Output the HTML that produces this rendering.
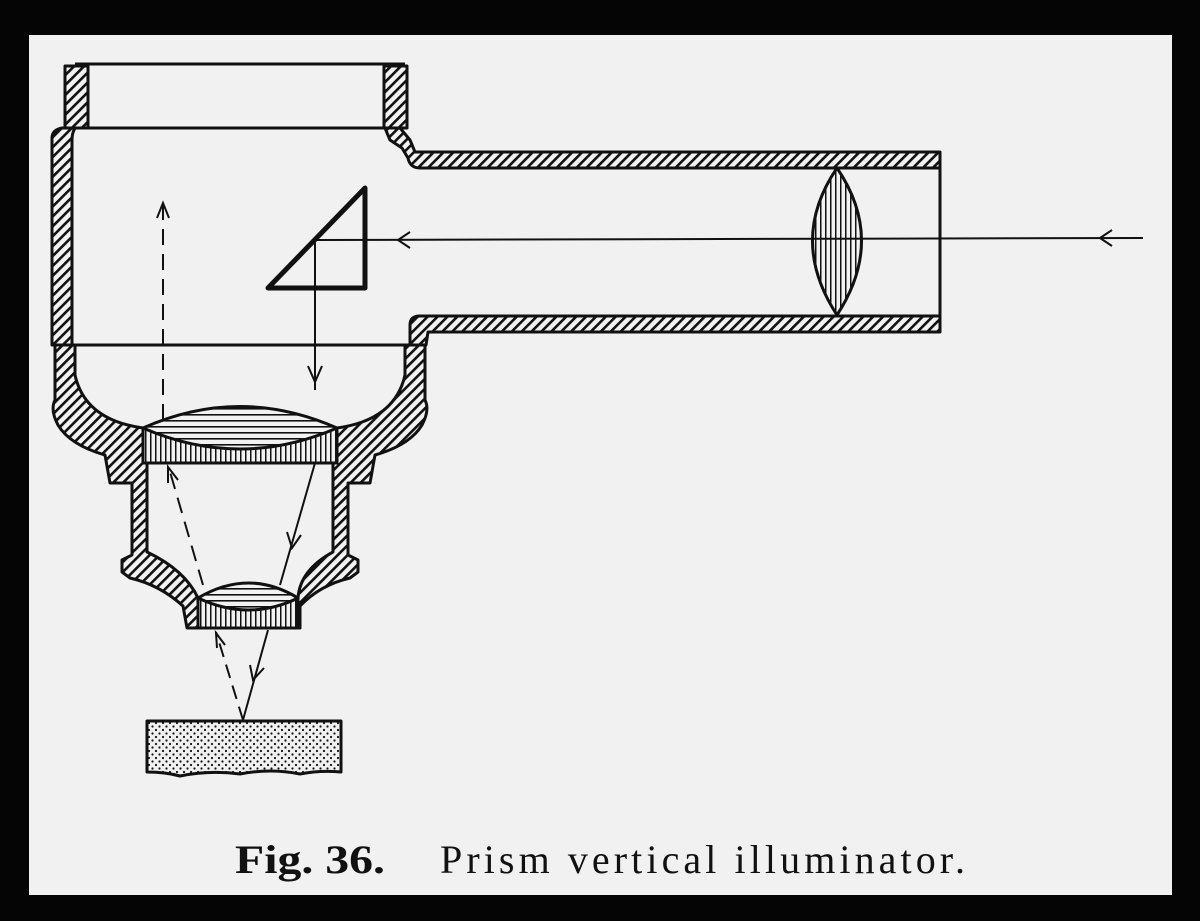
<!DOCTYPE html>
<html><head><style>
html,body{margin:0;padding:0;background:#000;}
svg{display:block}
</style></head><body>
<svg width="1200" height="921" viewBox="0 0 1200 921" xmlns="http://www.w3.org/2000/svg">
<defs>
<pattern id="h" width="7" height="7" patternUnits="userSpaceOnUse" patternTransform="rotate(45)">
<rect width="7" height="7" fill="#f2f2f2"/><rect width="2.6" height="7" fill="#111"/></pattern>
<pattern id="v" width="5" height="5" patternUnits="userSpaceOnUse">
<rect width="5" height="5" fill="#f2f2f2"/><rect width="1.5" height="5" fill="#111"/></pattern>
<pattern id="hz" width="6" height="6" patternUnits="userSpaceOnUse">
<rect width="6" height="6" fill="#f2f2f2"/><rect width="6" height="1.6" fill="#111"/></pattern>
<pattern id="d" width="7" height="7" patternUnits="userSpaceOnUse">
<rect width="7" height="7" fill="#f0f0f0"/><circle cx="2" cy="2" r="1.1" fill="#111"/><circle cx="5.5" cy="5.5" r="1.1" fill="#111"/></pattern>
</defs>
<rect x="0" y="0" width="1200" height="921" fill="#050505"/>
<rect x="29" y="35" width="1143" height="860" fill="#f1f1f1"/>
<g stroke="#111" stroke-width="3" fill="none" stroke-linejoin="round">
<path d="M65,66 L88,66 L88,128 L65,128 Z" fill="url(#h)"/>
<path d="M384,66 L407,66 L407,128 L384,128 Z" fill="url(#h)"/>
<line x1="75" y1="64" x2="405" y2="64"/>
<line x1="75" y1="128" x2="385" y2="128"/>
<path d="M52,138 Q52,130 62,128 L75,128 Q72,133 72,140 L72,345 L52,345 Z" fill="url(#h)"/>
<path d="M385,128 L400,128 L410,140 L415,152 L940,152 L940,168 L420,168 Q410,168 408,158 L402,148 L390,140 Z" fill="url(#h)"/>
<path d="M410,345 L410,325 Q410,316 420,316 L940,316 L940,332 L428,332 L426,345 Z" fill="url(#h)"/>
<line x1="940" y1="152" x2="940" y2="332"/>
<path d="M837,168 Q788,240 837,315 Q886,240 837,168 Z" fill="url(#v)"/>
<line x1="65" y1="345" x2="410" y2="345"/>
<path d="M55,345 L75,345 L75,375 Q85,420 143,428 L143,463 L147,463 L147,552 Q185,570 198,598 L200,628 L187,628 L183,606 Q160,585 130,578 L122,572 L122,560 L132,555 L132,483 L110,483 L105,455 Q70,445 58,425 Q50,410 55,400 Z" fill="url(#h)"/>
<path d="M425,345 L405,345 L405,375 Q395,420 337,428 L337,463 L333,463 L333,552 Q300,570 298,598 L298,628 L300,628 L300,606 Q320,585 350,578 L358,572 L358,560 L348,555 L348,483 L370,483 L375,455 Q410,445 422,425 Q430,410 425,400 Z" fill="url(#h)"/>
<rect x="143" y="428" width="194" height="35" fill="url(#v)"/>
<path d="M143,428 Q240,385 337,428 Q240,470 143,428 Z" fill="url(#hz)"/>
<rect x="198" y="598" width="100" height="30" fill="url(#v)"/>
<path d="M198,598 Q249,568 298,598 Q249,622 198,598 Z" fill="url(#hz)"/>
<path d="M147,721 L341,721 L341,772 Q320,770 300,774 Q270,768 240,774 Q210,770 180,776 Q165,772 147,772 Z" fill="url(#d)"/>
<path d="M268,288 L365,188 L365,288 Z" stroke-width="5"/>
</g>
<g stroke="#111" stroke-width="2" fill="none">
<line x1="316" y1="240" x2="1143" y2="238"/>
<path d="M1112,230 L1100,238 L1112,246"/>
<path d="M410,232 L398,240 L410,248"/>
<line x1="315" y1="240" x2="315" y2="390"/>
<path d="M308,366 L315,382 L322,366"/>
<line x1="163" y1="420" x2="163" y2="205" stroke-dasharray="16,9"/>
<path d="M157,218 L163,203 L169,218"/>
<line x1="315" y1="463" x2="280" y2="585"/>
<path d="M287,532 L292,548 L301,535"/>
<line x1="203" y1="585" x2="168" y2="465" stroke-dasharray="16,9"/>
<path d="M168,483 L168,467 L178,480"/>
<line x1="268" y1="630" x2="243" y2="720"/>
<path d="M250,665 L253,680 L264,668"/>
<line x1="243" y1="720" x2="216" y2="632" stroke-dasharray="14,8"/>
<path d="M217,648 L216,633 L225,645"/>
</g>
<text x="235" y="873" font-family="'Liberation Serif',serif" font-size="40" font-weight="bold" fill="#111" textLength="150" lengthAdjust="spacingAndGlyphs">Fig. 36.</text>
<text x="440" y="873" font-family="'Liberation Serif',serif" font-size="40" fill="#111" textLength="525">Prism vertical illuminator.</text>
</svg>
</body></html>
